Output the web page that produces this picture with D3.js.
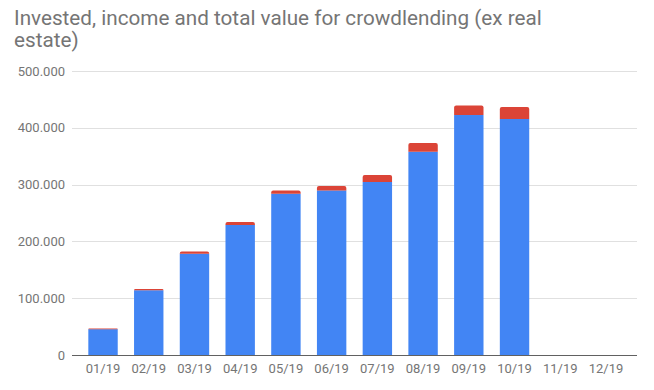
<!DOCTYPE html>
<html>
<head>
<meta charset="utf-8">
<script src="https://cdn.jsdelivr.net/npm/d3@7"></script>
<style>
  html, body { margin: 0; padding: 0; background: #fff; }
  svg { display: block; font-family: Roboto, "Noto Sans", sans-serif; }
</style>
</head>
<body>
<svg id="chart" width="654" height="390"></svg>
<script>
const titleLines = ["Invested, income and total value for crowdlending (ex real", "estate)"];
const months = ["01/19", "02/19", "03/19", "04/19", "05/19", "06/19", "07/19", "08/19", "09/19", "10/19", "11/19", "12/19"];
const invested = [45500, 114000, 178300, 228900, 284000, 289800, 304600, 357900, 422500, 415500, null, null];
const income = [1300, 2200, 4100, 5300, 5800, 7700, 12300, 15300, 16900, 21100, null, null];
const yTicks = [0, 100000, 200000, 300000, 400000, 500000];

const W = 654, H = 390;
const margin = { top: 71, right: 17, bottom: 35, left: 72 };

const svg = d3.select("#chart");

// title, wrapped on two lines like the original
svg.append("text")
  .attr("x", 14)
  .attr("y", 25)
  .attr("fill", "#757575")
  .attr("font-size", "20.7px")
  .selectAll("tspan")
  .data(titleLines)
  .enter()
  .append("tspan")
  .attr("x", 14)
  .attr("dy", (d, i) => i === 0 ? 0 : 21.7)
  .text(d => d);

const x = d3.scaleBand()
  .domain(months)
  .range([margin.left, W - margin.right])
  .padding(0.357);

const y = d3.scaleLinear()
  .domain([0, 500000])
  .range([H - margin.bottom, margin.top]);

const fmt = v => v === 0 ? "0" : d3.format(",")(v).replace(/,/g, ".");

// gridlines
svg.append("g")
  .selectAll("line")
  .data(yTicks.filter(d => d > 0))
  .enter()
  .append("line")
  .attr("x1", margin.left)
  .attr("x2", W - margin.right)
  .attr("y1", d => Math.round(y(d)) + 0.5)
  .attr("y2", d => Math.round(y(d)) + 0.5)
  .attr("stroke", "#e0e0e0")
  .attr("stroke-width", 1);

// y labels
svg.append("g")
  .selectAll("text")
  .data(yTicks)
  .enter()
  .append("text")
  .attr("x", margin.left - 7)
  .attr("y", d => y(d))
  .attr("dy", "0.35em")
  .attr("text-anchor", "end")
  .attr("font-size", "13px")
  .attr("fill", "#757575")
  .text(fmt);

// rounded-top rect path
function topRounded(x0, y0, w, h, r) {
  r = Math.min(r, h, w / 2);
  return `M${x0},${y0 + h}V${y0 + r}Q${x0},${y0} ${x0 + r},${y0}H${x0 + w - r}Q${x0 + w},${y0} ${x0 + w},${y0 + r}V${y0 + h}Z`;
}

const rows = months.map((m, i) => ({ m, inv: invested[i], inc: income[i] })).filter(d => d.inv != null);

// invested bars
svg.append("g")
  .selectAll("rect")
  .data(rows)
  .enter()
  .append("rect")
  .attr("x", d => x(d.m))
  .attr("y", d => y(d.inv))
  .attr("width", x.bandwidth())
  .attr("height", d => y(0) - y(d.inv))
  .attr("fill", "#4285f4");

// income stacked on top
svg.append("g")
  .selectAll("path")
  .data(rows)
  .enter()
  .append("path")
  .attr("d", d => topRounded(x(d.m), y(d.inv + d.inc), x.bandwidth(), y(d.inv) - y(d.inv + d.inc), 2))
  .attr("fill", "#db4437");

// baseline
svg.append("line")
  .attr("x1", margin.left)
  .attr("x2", W - margin.right)
  .attr("y1", Math.round(y(0)) + 0.5)
  .attr("y2", Math.round(y(0)) + 0.5)
  .attr("stroke", "#616161")
  .attr("stroke-width", 1);

// x labels
svg.append("g")
  .selectAll("text")
  .data(months)
  .enter()
  .append("text")
  .attr("x", d => x(d) + x.bandwidth() / 2)
  .attr("y", 373)
  .attr("text-anchor", "middle")
  .attr("font-size", "13px")
  .attr("fill", "#757575")
  .text(d => d);
</script>
</body>
</html>
